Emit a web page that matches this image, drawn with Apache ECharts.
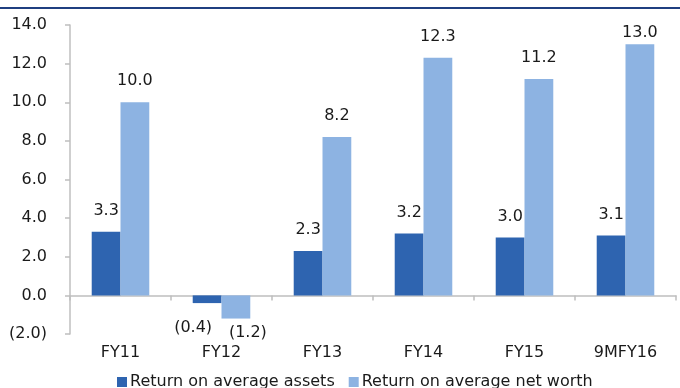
<!DOCTYPE html>
<html><head><meta charset="utf-8">
<script src="https://cdn.jsdelivr.net/npm/echarts@6/dist/echarts.min.js"></script>
<style>html,body{margin:0;padding:0;background:#fff}#c{width:680px;height:388px}</style>
</head><body><div id="c"></div>
<script>
const categories = ['FY11','FY12','FY13','FY14','FY15','9MFY16'];
const roaValues = [3.3, -0.4, 2.3, 3.2, 3.0, 3.1];
const ronwValues = [10.0, -1.2, 8.2, 12.3, 11.2, 13.0];
const seriesNames = ['Return on average assets','Return on average net worth'];
const yTicks = {min: -2, max: 14, interval: 2};

const FONT = 'DejaVu Sans';
function fmt(v){ return v < 0 ? '(' + Math.abs(v).toFixed(1) + ')' : v.toFixed(1); }
function mkData(vals, negOffset){
  return vals.map(v => {
    if (v < 0) return {value: v, label: {position: 'bottom', distance: 6, offset: negOffset}};
    // labels that would leave the plot area are kept just inside its top edge
    if (v > yTicks.max - 1.2) return {value: v, label: {offset: [0, 10]}};
    return v;
  });
}
const chart = echarts.init(document.getElementById('c'));
chart.setOption({
  animation: false,
  textStyle: {fontFamily: FONT},
  graphic: [{type: 'rect', shape: {x: 0, y: 7, width: 680, height: 2}, style: {fill: '#1f3f80'}}],
  grid: {left: 70, right: 4, top: 25, bottom: 54, containLabel: false, outerBoundsMode: 'none'},
  legend: {
    bottom: -7, left: 112, itemWidth: 10, itemHeight: 10, itemGap: 14,
    icon: 'rect',
    textStyle: {fontFamily: FONT, fontSize: 16, color: '#1a1a1a', padding: [0,0,0,-2]},
    data: seriesNames
  },
  xAxis: {
    type: 'category', data: categories,
    axisLine: {onZero: true, lineStyle: {color: '#bfbfbf', width: 1.5}},
    axisTick: {show: true, length: 5, lineStyle: {color: '#bfbfbf', width: 1.5}},
    axisLabel: {margin: 11, fontFamily: FONT, fontSize: 16, color: '#1a1a1a'}
  },
  yAxis: {
    type: 'value', min: yTicks.min, max: yTicks.max, interval: yTicks.interval,
    splitLine: {show: false},
    axisLine: {show: true, lineStyle: {color: '#bfbfbf', width: 1.5}},
    axisTick: {show: true, length: 5, lineStyle: {color: '#bfbfbf', width: 1.5}},
    axisLabel: {margin: 23, fontFamily: FONT, fontSize: 16, color: '#1a1a1a', formatter: v => fmt(v)}
  },
  series: [
    {name: seriesNames[0], type: 'bar', data: mkData(roaValues, [-14, 11]), barGap: '0%', barCategoryGap: '43%',
     itemStyle: {color: '#2e64b0'},
     label: {show: true, position: 'top', distance: 13, fontFamily: FONT, fontSize: 16, color: '#1a1a1a', formatter: p => fmt(p.value)}},
    {name: seriesNames[1], type: 'bar', data: mkData(ronwValues, [12, 0]), barGap: '0%', barCategoryGap: '43%',
     itemStyle: {color: '#8db3e2'},
     label: {show: true, position: 'top', distance: 13, fontFamily: FONT, fontSize: 16, color: '#1a1a1a', formatter: p => fmt(p.value)}}
  ]
});
</script></body></html>
